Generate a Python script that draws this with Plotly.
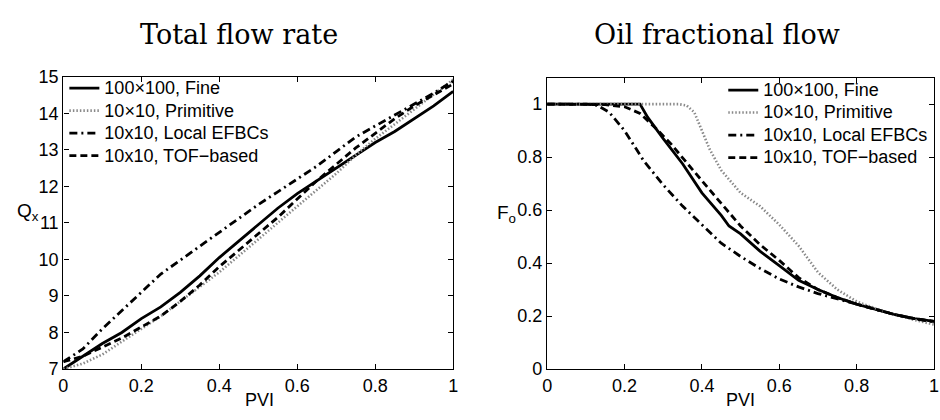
import plotly.graph_objects as go

# ---------------- data ----------------
series_names = ["100\u00d7100, Fine", "10\u00d710, Primitive", "10x10, Local EFBCs", "10x10, TOF\u2212based"]

# Left panel: total flow rate Q_x vs PVI
q_pvi = [0, .05, .1, .15, .2, .25, .3, .35, .4, .45, .5, .55, .6, .65, .7, .75, .8, .85, .9, .95, 1.0]
q_fine = [7.0, 7.35, 7.7, 8.0, 8.38, 8.7, 9.1, 9.55, 10.05, 10.5, 10.95, 11.4, 11.8, 12.15, 12.5, 12.85, 13.2, 13.5, 13.85, 14.2, 14.6]
q_prim = [7.0, 7.15, 7.4, 7.75, 8.1, 8.45, 8.85, 9.25, 9.65, 10.1, 10.55, 11.0, 11.45, 11.9, 12.35, 12.85, 13.3, 13.7, 14.1, 14.5, 14.92]
q_local = [7.2, 7.55, 8.1, 8.6, 9.1, 9.6, 9.98, 10.36, 10.74, 11.12, 11.5, 11.85, 12.2, 12.55, 12.95, 13.35, 13.65, 13.95, 14.25, 14.55, 14.88]
q_tof = [7.2, 7.35, 7.6, 7.85, 8.15, 8.45, 8.85, 9.3, 9.8, 10.25, 10.7, 11.15, 11.65, 12.15, 12.6, 13.05, 13.45, 13.85, 14.2, 14.5, 14.8]

# Right panel: oil fractional flow F_o vs PVI
f_fine_x = [0, .1, .2, .24, .26, .3, .35, .4, .45, .47, .5, .55, .6, .65, .7, .75, .8, .85, .9, .95, 1.0]
f_fine_y = [1, 1, 1, 1, .95, .87, .775, .665, .58, .54, .51, .445, .39, .335, .3, .27, .245, .225, .205, .19, .18]
f_prim_x = [0, .1, .2, .3, .34, .36, .38, .4, .42, .45, .5, .55, .6, .65, .7, .75, .8, .85, .9, .95, 1.0]
f_prim_y = [1, 1, 1, 1, 1, .995, .97, .9, .83, .75, .665, .615, .545, .465, .365, .3, .255, .228, .205, .185, .168]
f_local_x = [0, .1, .13, .16, .2, .25, .3, .35, .4, .45, .5, .55, .6, .65, .7, .75, .8, .85, .9, .95, 1.0]
f_local_y = [1, 1, .995, .97, .9, .785, .695, .615, .545, .475, .425, .38, .34, .31, .285, .265, .245, .225, .205, .19, .178]
f_tof_x = [0, .1, .15, .2, .24, .28, .32, .36, .4, .45, .5, .55, .6, .65, .7, .75, .8, .85, .9, .95, 1.0]
f_tof_y = [1, 1, .998, .99, .965, .91, .85, .78, .71, .625, .54, .47, .41, .345, .3, .27, .245, .225, .205, .19, .18]

x_ticks = [0, 0.2, 0.4, 0.6, 0.8, 1]
q_ticks = [7, 8, 9, 10, 11, 12, 13, 14, 15]
f_ticks = [0, 0.2, 0.4, 0.6, 0.8, 1]

# ---------------- styles ----------------
styles = [
    dict(color="black", width=2.8, dash="solid"),
    dict(color="#8a8a8a", width=2.6, dash="1.5px,2px"),
    dict(color="black", width=2.8, dash="8px,4px,2px,4px"),
    dict(color="black", width=2.8, dash="7px,4px"),
]

FS = 18
def legend_label(s):
    return '<span style="font-size:%dpx">%s</span>' % (FS, s)

fig = go.Figure()
left = [(q_pvi, q_fine), (q_pvi, q_prim), (q_pvi, q_local), (q_pvi, q_tof)]
right = [(f_fine_x, f_fine_y), (f_prim_x, f_prim_y), (f_local_x, f_local_y), (f_tof_x, f_tof_y)]
for i, (xs, ys) in enumerate(left):
    fig.add_trace(go.Scatter(x=xs, y=ys, mode="lines", name=legend_label(series_names[i]), line=styles[i],
                             xaxis="x", yaxis="y", legend="legend"))
for i, (xs, ys) in enumerate(right):
    fig.add_trace(go.Scatter(x=xs, y=ys, mode="lines", name=legend_label(series_names[i]), line=styles[i],
                             xaxis="x2", yaxis="y2", legend="legend2"))

W, H = 940, 420
def px(x): return x / W
def py(y): return 1 - y / H

TF = dict(family="Liberation Sans, Arial, sans-serif", size=FS, color="black")
LF = dict(family="Liberation Sans, Arial, sans-serif", size=15, color="black")
axis_common = dict(showline=True, linecolor="black", linewidth=1.4, mirror="ticks", ticks="inside",
                   ticklen=5, tickcolor="black", tickwidth=1, showgrid=False, zeroline=False,
                   tickfont=TF)

fig.update_layout(
    width=W, height=H, autosize=False,
    margin=dict(l=0, r=0, t=0, b=0),
    paper_bgcolor="white", plot_bgcolor="white",
    font=TF,
    xaxis=dict(domain=[px(59), px(453)], range=[0, 1], tickvals=x_ticks, ticktext=[str(v) for v in x_ticks],
               anchor="y", **axis_common),
    yaxis=dict(domain=[py(377), py(70)], range=[7, 15], tickvals=q_ticks, anchor="x", **axis_common),
    xaxis2=dict(domain=[px(548), px(939)], range=[0, 1], tickvals=x_ticks, ticktext=[str(v) for v in x_ticks],
                anchor="y2", **axis_common),
    yaxis2=dict(domain=[py(377), py(71)], range=[0, 1.1], tickvals=f_ticks, ticktext=[str(v) for v in f_ticks],
                anchor="x2", **axis_common),
    legend=dict(x=px(60), y=py(65), xanchor="left", yanchor="top", bgcolor="rgba(0,0,0,0)",
                font=LF, tracegroupgap=0, itemwidth=30),
    legend2=dict(x=px(726), y=py(67), xanchor="left", yanchor="top", bgcolor="rgba(0,0,0,0)",
                 font=LF, tracegroupgap=0, itemwidth=30),
)

serif = dict(family="DejaVu Serif, serif", size=27, color="black")
lab = dict(family=TF["family"], size=19, color="black")
ann = [
    dict(text="Total flow rate", x=px(237), y=py(26), font=serif),
    dict(text="Oil fractional flow", x=px(720), y=py(26), font=serif),
    dict(text="Q<sub>x</sub>", x=px(23.5), y=py(212), font=lab),
    dict(text="F<sub>o</sub>", x=px(507), y=py(214), font=lab),
    dict(text="PVI", x=px(257), y=py(409), font=TF),
    dict(text="PVI", x=px(743), y=py(409), font=TF),
]
for a in ann:
    fig.add_annotation(xref="paper", yref="paper", showarrow=False, xanchor="center", yanchor="middle", **a)

fig.write_html("out.html", config={"displayModeBar": False},
               post_script="document.body.style.margin='0';document.body.style.overflow='hidden';")
